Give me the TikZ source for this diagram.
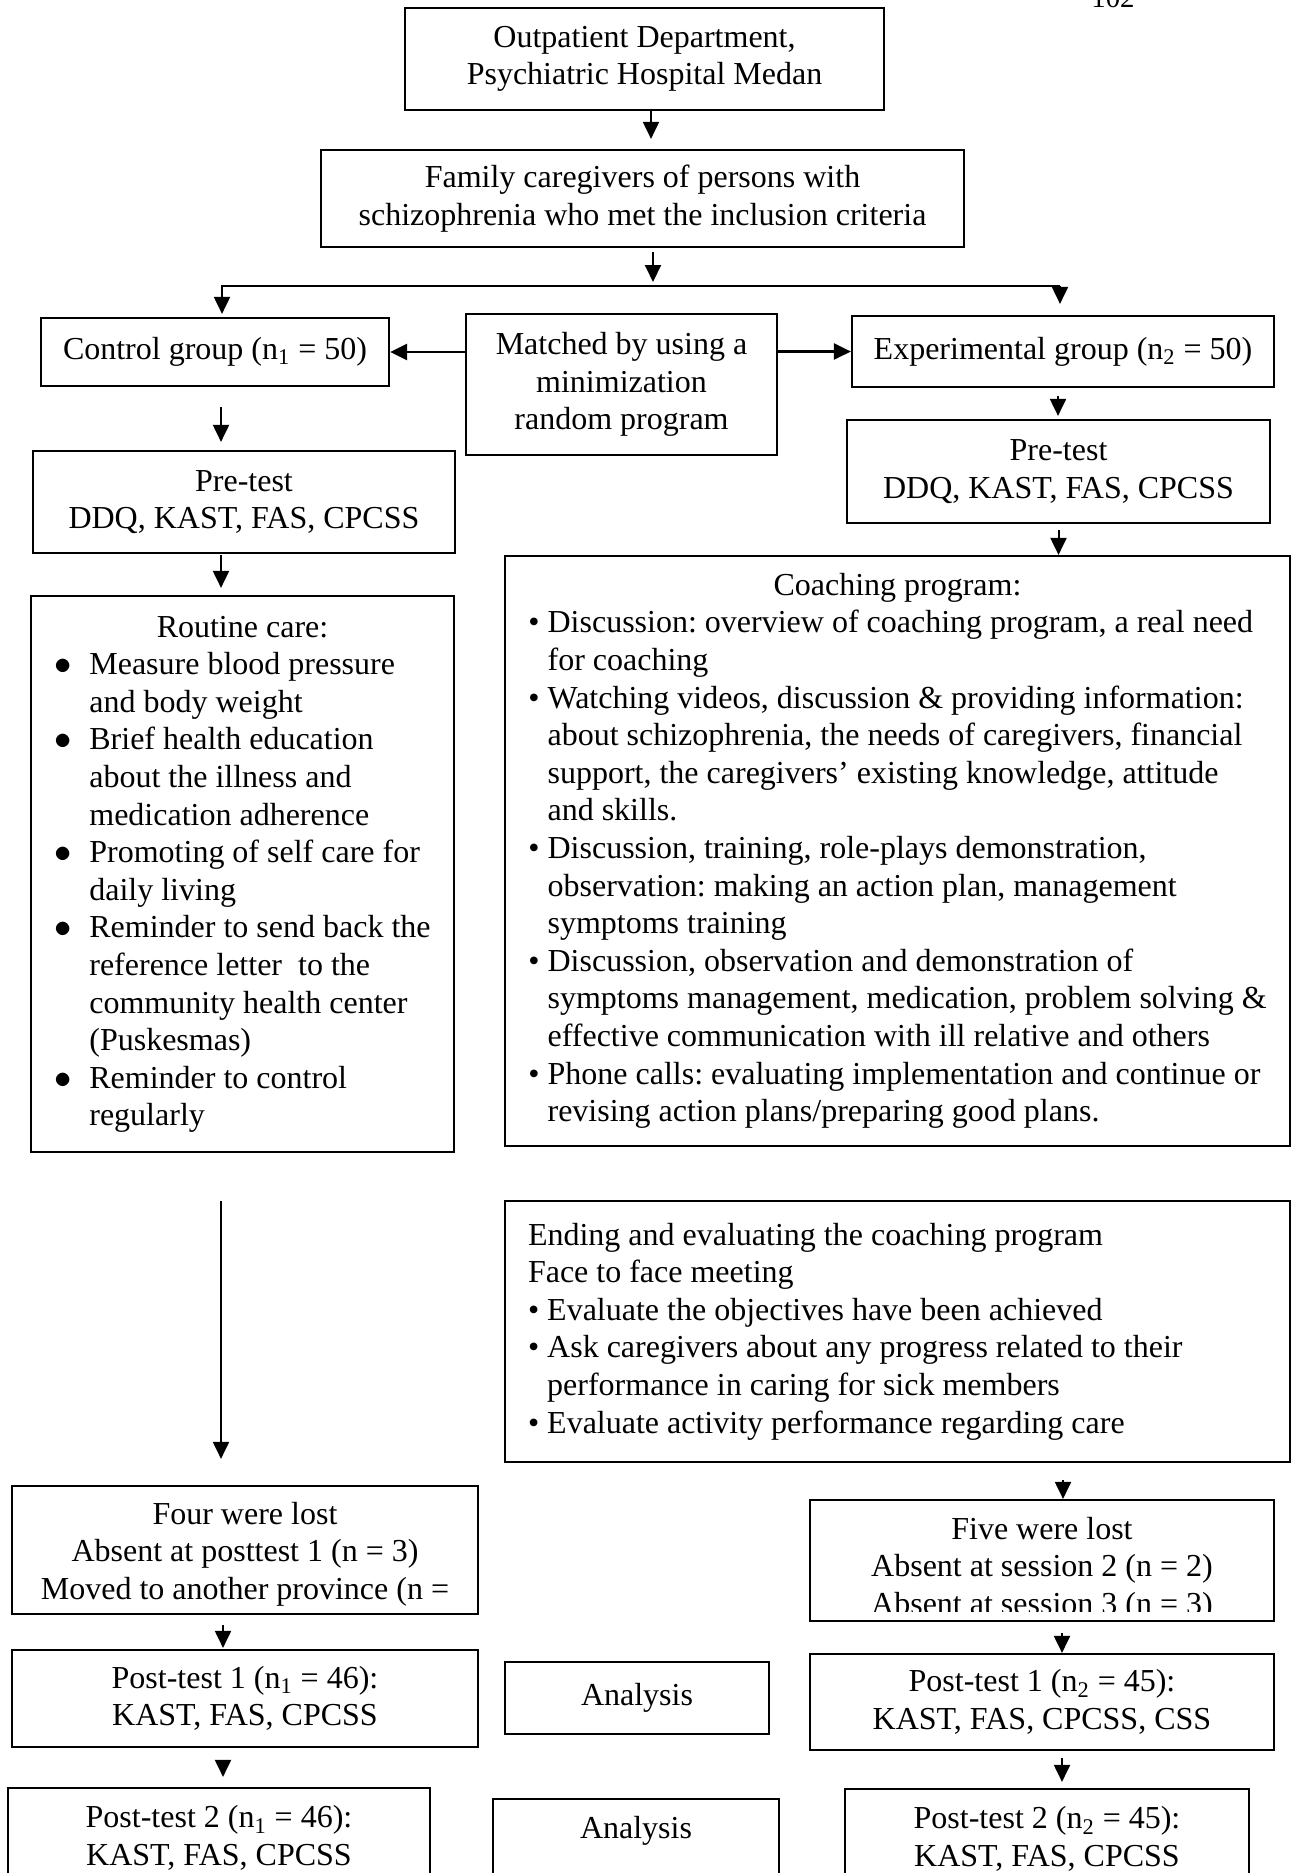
\documentclass[tikz,border=0pt]{standalone}
\usepackage{fontspec}
\setmainfont{Liberation Serif}
\usetikzlibrary{arrows.meta}
\newcommand{\bul}{\textbullet\ }
\newcommand{\bulgap}{\hphantom{\textbullet\ }}
\newcommand{\rbul}{\makebox[17.5pt][l]{$\bullet$}}
\newcommand{\rgap}{\hspace*{17.5pt}}
\begin{document}
\begin{tikzpicture}[x=0.5pt, y=-0.5pt, every node/.style={font=\fontsize{16pt}{18.8pt}\selectfont\frenchspacing},
  frame/.style={draw, line width=1.1pt, inner sep=0pt},
  box/.style={frame, align=center},
  arr/.style={line width=1pt, -{Triangle[length=8.5pt,width=8pt]}},
  arrthick/.style={arr, line width=1.4pt}]
  \useasboundingbox (0,0) rectangle (1292,1873);
  \node[anchor=base, font=\fontsize{14.4pt}{17pt}\selectfont] (page) at (1113,8) {102};
  \node[box, minimum width=239.5pt, minimum height=51pt] (top) at (644.5,59) {Outpatient Department,\\Psychiatric Hospital Medan};
  \node[box, minimum width=321.5pt, minimum height=48.5pt] (fam) at (642.5,198.5) {Family caregivers of persons with\\schizophrenia who met the inclusion criteria};
  \draw[arr, shorten >=5pt] ([xshift=3.25pt]top.south) -- ([xshift=3.25pt]top.south |- fam.north);
  \coordinate (split) at (653,286);
  \coordinate (splitL) at (222,286);
  \coordinate (splitR) at (1060,286);
  \draw[arr, shorten <=2pt, shorten >=2pt] (fam.south -| split) -- (split);
  \node[box, minimum width=174pt, minimum height=34pt] (ctrl) at (215,352) {Control group (n\textsubscript{1} = 50)};
  \node[box, minimum width=155.5pt, minimum height=70.5pt] (match) at (621.5,384.5) {Matched by using a\\minimization\\random program};
  \node[box, minimum width=211pt, minimum height=35.5pt] (exp) at (1063,351.5) {Experimental group (n\textsubscript{2} = 50)};
  \draw[arr, shorten >=1.5pt] (splitR) -- (splitL) -- (splitL |- ctrl.north);
  \draw[arr, shorten >=5.5pt] (splitR) -- (splitR |- exp.north);
  \draw[arrthick] (match.west |- ctrl.east) -- (ctrl.east);
  \draw[arrthick] (match.east |- exp.west) -- (exp.west);
  \node[box, minimum width=211pt, minimum height=51pt] (preL) at (244,502) {Pre-test\\DDQ, KAST, FAS, CPCSS};
  \node[box, minimum width=211.5pt, minimum height=51.5pt] (preR) at (1058.5,471.5) {Pre-test\\DDQ, KAST, FAS, CPCSS};
  \draw[arr, shorten <=10pt, shorten >=4pt] ([xshift=3pt]ctrl.south) -- ([xshift=3pt]ctrl.south |- preL.north);
  \draw[arr, shorten <=4pt, shorten >=1.5pt] ([xshift=-2.5pt]exp.south) -- ([xshift=-2.5pt]exp.south |- preR.north);
  \node[frame, minimum width=211.5pt, minimum height=278pt] (routine) at (242.5,874) {\begin{tabular}{@{}l@{}}
    \multicolumn{1}{@{}c@{}}{Routine care:}\\
    \rbul Measure blood pressure\\
    \rgap and body weight\\
    \rbul Brief health education\\
    \rgap about the illness and\\
    \rgap medication adherence\\
    \rbul Promoting of self care for\\
    \rgap daily living\\
    \rbul Reminder to send back the\\
    \rgap reference letter\ \ to the\\
    \rgap community health center\\
    \rgap (Puskesmas)\\
    \rbul Reminder to control\\
    \rgap regularly
  \end{tabular}};
  \node[frame, minimum width=392.5pt, minimum height=295pt] (coach) at (897.5,851) {\begin{tabular}{@{}l@{}}
    \multicolumn{1}{@{}c@{}}{Coaching program:}\\
    \bul Discussion: overview of coaching program, a real need\\
    \bulgap for coaching\\
    \bul Watching videos, discussion \& providing information:\\
    \bulgap about schizophrenia, the needs of caregivers, financial\\
    \bulgap support, the caregivers’ existing knowledge, attitude\\
    \bulgap and skills.\\
    \bul Discussion, training, role-plays demonstration,\\
    \bulgap observation: making an action plan, management\\
    \bulgap symptoms training\\
    \bul Discussion, observation and demonstration of\\
    \bulgap symptoms management, medication, problem solving \&\\
    \bulgap effective communication with ill relative and others\\
    \bul Phone calls: evaluating implementation and continue or\\
    \bulgap revising action plans/preparing good plans.
  \end{tabular}};
  \draw[arr, shorten <=0.5pt, shorten >=3.5pt] ([xshift=-11.5pt]preL.south) -- ([xshift=-11.5pt]preL.south |- routine.north);
  \draw[arr, shorten <=3pt] (preR.south) -- (preR.south |- coach.north);
  \node[frame, inner xsep=11.5pt, minimum height=130.5pt] (ending) at (897.5,1331.5) {\makebox[369.5pt][l]{\begin{tabular}{@{}l@{}}
    Ending and evaluating the coaching program\\
    Face to face meeting\\
    \bul Evaluate the objectives have been achieved\\
    \bul Ask caregivers about any progress related to their\\
    \bulgap performance in caring for sick members\\
    \bul Evaluate activity performance regarding care
  \end{tabular}}};
  \node[frame, minimum width=233pt, minimum height=64pt] (lostL) at (245,1550) {};
  \node[align=center] (lostLtext) at (245,1554) {Four were lost\\Absent at posttest 1 (n = 3)\\Moved to another province (n =};
  \node[frame, minimum width=232pt, minimum height=60.5pt] (lostR) at (1042,1560.5) {};
  \begin{scope}
    \clip (lostR.north west) rectangle ([yshift=5.5pt]lostR.south east);
    \node[align=center] (lostRtext) at (1042,1569) {Five were lost\\Absent at session 2 (n = 2)\\Absent at session 3 (n = 3)};
  \end{scope}
  \draw[arr, shorten <=24pt, shorten >=13pt] ([xshift=-10.75pt]routine.south) -- ([xshift=-10.75pt]routine.south |- lostL.north);
  \draw[arr, shorten <=8.5pt] ([xshift=10.5pt]lostR.north |- ending.south) -- ([xshift=10.5pt]lostR.north);
  \node[box, minimum width=233pt, minimum height=48.5pt] (post1L) at (245,1698.5) {Post-test 1 (n\textsubscript{1} = 46):\\KAST, FAS, CPCSS};
  \node[box, minimum width=132pt, minimum height=36pt] (ana1) at (637,1698) {Analysis};
  \node[box, minimum width=232pt, minimum height=48pt] (post1R) at (1042,1702) {Post-test 1 (n\textsubscript{2} = 45):\\KAST, FAS, CPCSS, CSS};
  \draw[arr, shorten <=5pt, shorten >=0.5pt] ([xshift=-11pt]lostL.south) -- ([xshift=-11pt]lostL.south |- post1L.north);
  \draw[arr, shorten <=5.5pt] ([xshift=10pt]lostR.south) -- ([xshift=10pt]lostR.south |- post1R.north);
  \node[box, minimum width=211pt, minimum height=50pt] (post2L) at (219,1838) {Post-test 2 (n\textsubscript{1} = 46):\\KAST, FAS, CPCSS};
  \node[frame, anchor=north, minimum width=143pt, text height=11pt, text depth=40pt, inner ysep=8.5pt] (ana2) at (636,1798) {Analysis};
  \node[box, minimum width=202pt, minimum height=50pt] (post2R) at (1047,1839) {Post-test 2 (n\textsubscript{2} = 45):\\KAST, FAS, CPCSS};
  \draw[arr, shorten <=8pt, shorten >=5pt] ([xshift=-11pt]post1L.south) -- ([xshift=-11pt]post1L.south |- post2L.north);
  \draw[arr, shorten <=3.5pt, shorten >=3pt] ([xshift=10pt]post1R.south) -- ([xshift=10pt]post1R.south |- post2R.north);
\end{tikzpicture}
\end{document}
